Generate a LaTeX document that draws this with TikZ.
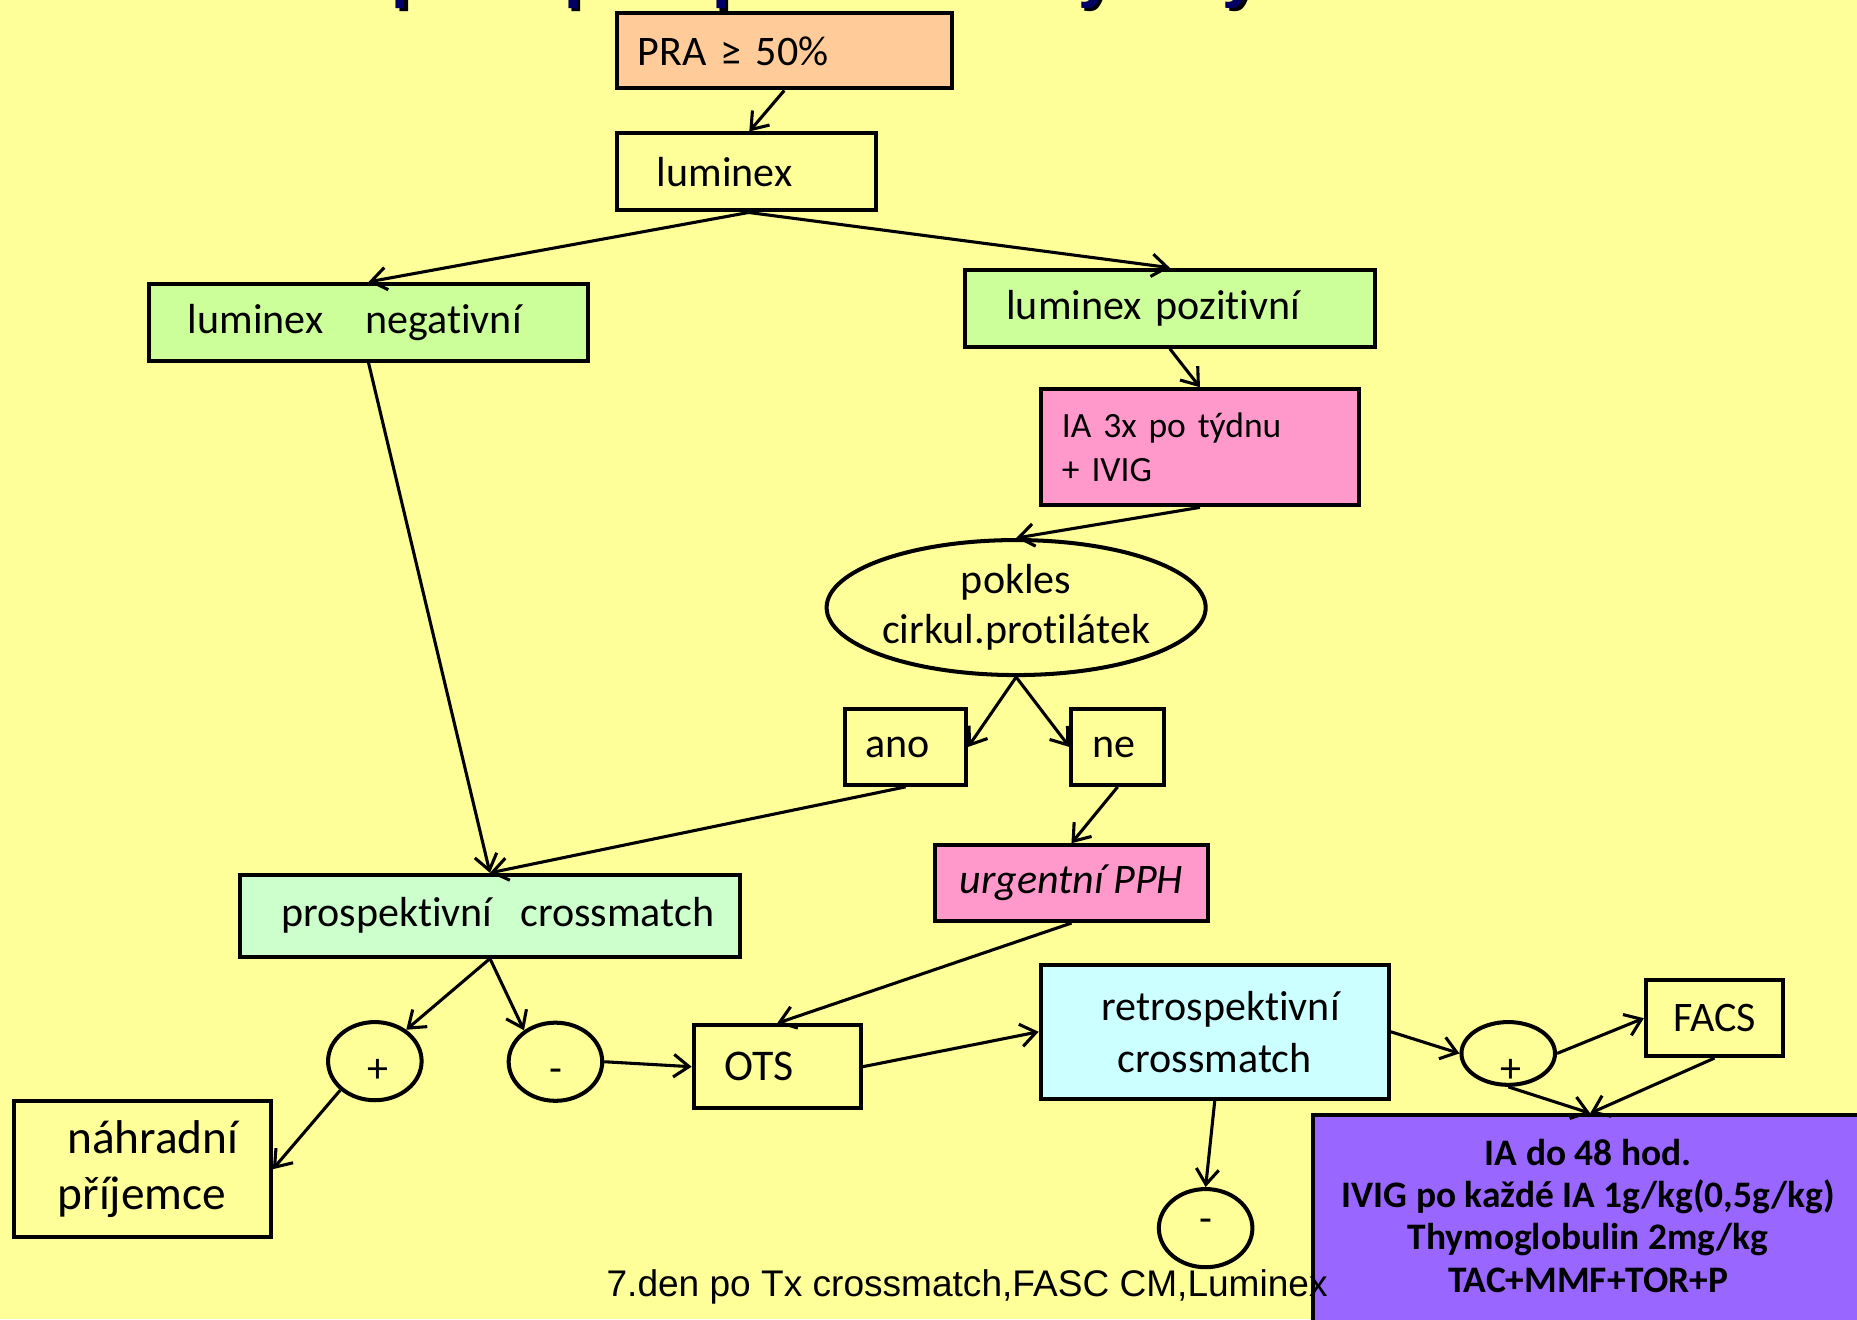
\documentclass[tikz,border=0pt]{standalone}
\usepackage{fontspec}
\setmainfont{Carlito}[Ligatures=CommonOff]
\newfontfamily\arialf{Liberation Sans}
\usetikzlibrary{arrows.meta,shapes.geometric,calc}
\definecolor{bgc}{HTML}{FFFF99}
\definecolor{praC}{HTML}{FFCC99}
\definecolor{grnC}{HTML}{CCFF99}
\definecolor{pinkC}{HTML}{FF99CC}
\definecolor{mintC}{HTML}{CCFFCC}
\definecolor{cyanC}{HTML}{CCFFFF}
\definecolor{purpC}{HTML}{9966FF}
\definecolor{navyC}{HTML}{000066}
\newcommand\fsmain{\fontsize{35.5}{42}\selectfont}
\begin{document}
\begin{tikzpicture}[x=1pt,y=-1pt,
  box/.style={draw=black, line width=3.4pt, rectangle, inner sep=0pt, anchor=north west, font=\fsmain},
  lbox/.style={box, minimum width=#1, text width=#1, align=left},
  circ/.style={draw=black, line width=3.4pt, ellipse, inner sep=0pt, minimum width=79pt, minimum height=66pt},
  sign/.style={inner sep=0pt, anchor=base, font=\fsmain},
  arr/.style={-{Straight Barb[length=13pt,width=19pt]}, line width=2.6pt}]
\useasboundingbox (0,0) rectangle (1568,1114);
\clip (0,0) rectangle (1568,1114);
\fill[bgc] (0,0) rectangle (1568,1114);
% title (cut off at top)
\node[anchor=base west, inner sep=0pt, text=black, font=\arialf\bfseries\fontsize{53.5}{60}\selectfont] (titlesh) at (191,-1) {Další postup\ \ u\ \ pacientů s vysokým PRA};
\node[anchor=base west, inner sep=0pt, text=navyC, font=\arialf\bfseries\fontsize{53.5}{60}\selectfont] (title) at (188,-4) {Další postup\ \ u\ \ pacientů s vysokým PRA};
% boxes
\node[lbox=283pt, fill=praC, minimum height=63.5pt] (pra) at (519,9.5) {\hspace*{18pt}PRA ≥ 50\%};
\node[lbox=219pt, minimum height=65pt] (lum) at (519,111) {\hspace*{34pt}luminex};
\node[lbox=371pt, fill=grnC, minimum height=65pt] (neg) at (124,238) {\hspace*{33pt}luminex\ \ \ negativní};
\node[lbox=346pt, fill=grnC, minimum height=65pt] (poz) at (813,226) {\hspace*{35pt}luminex pozitivní};
\node[lbox=269pt, fill=pinkC, minimum height=98pt, font=\fontsize{30}{37}\selectfont] (ia) at (877,327) {\hspace*{18pt}IA 3x po týdnu\\\hspace*{18pt}+ IVIG};
\node[circ, minimum width=320pt, minimum height=114pt, align=center, font=\fontsize{35.5}{42}\selectfont] (ell) at (858,513) {pokles\\cirkul.protilátek};
\node[lbox=102pt, minimum height=64pt] (ano) at (712,597) {\hspace*{17pt}ano};
\node[lbox=78pt, minimum height=64pt] (ne) at (903,597) {\hspace*{18pt}ne};
\node[box, fill=pinkC, minimum width=230pt, minimum height=64pt, align=center, font=\fsmain\itshape] (urg) at (788,712) {urgentní PPH};
\node[lbox=422pt, fill=mintC, minimum height=69pt] (pros) at (201,737) {\hspace*{35pt}prospektivní\ \ crossmatch};
\node[lbox=141pt, minimum height=70pt, font=\fontsize{37}{42}\selectfont] (ots) at (584,864) {\hspace*{26pt}OTS};
\node[box, fill=cyanC, minimum width=294pt, minimum height=113pt, align=center, font=\fontsize{35.5}{44}\selectfont] (retro) at (877,813) {\hspace*{10pt}retrospektivní\\crossmatch};
\node[box, minimum width=116pt, minimum height=64pt, align=center] (facs) at (1388,826) {FACS};
\node[lbox=217pt, minimum height=115pt, font=\fontsize{40}{48}\selectfont] (nahr) at (10,928) {\hspace*{45pt}náhradní\\\hspace*{37pt}příjemce};
\node[box, fill=purpC, minimum width=468pt, minimum height=180pt] (purple) at (1107,940) {};
\node[inner sep=0pt, align=center, font=\bfseries\fontsize{31.6}{35.6}\selectfont] (ptext) at (1341,1026.6) {IA do 48 hod.\\IVIG po každé IA 1g/kg(0,5g/kg)\\Thymoglobulin 2mg/kg\\TAC+MMF+TOR+P};
% circles
\node[circ] (pc) at (316.5,896) {};
\node[sign] (pct) at (318.8,914) {+};
\node[circ] (mc) at (469,896.5) {};
\node[sign] (mct) at (469,914) {-};
\node[circ, minimum height=53pt] (rp) at (1273.5,889.5) {};
\node[sign] (rpt) at (1276,914) {+};
\node[circ] (bm) at (1018,1037) {};
\node[sign] (bmt) at (1018,1041) {-};
% connectors
\draw[arr] (pra.south) -- ([xshift=2.5pt]lum.north);
\draw[arr] ([xshift=2pt]lum.south) -- (neg.north);
\draw[arr] ([xshift=2pt]lum.south) -- (poz.north);
\draw[arr] (poz.south) -- (ia.north);
\draw[arr] (ia.south) -- (ell.north);
\draw[arr] (ell.south) -- (ano.east);
\draw[arr] (ell.south) -- (ne.west);
\draw[arr] (ne.south) -- (urg.north);
\draw[arr] (neg.south) -- (pros.north);
\draw[arr] (ano.south) -- (pros.north);
\draw[arr] (urg.south) -- (ots.north);
\draw[arr] (pros.south) -- (pc.45);
\draw[arr] (pros.south) -- (mc.135);
\draw[arr] (mc.east) -- (ots.west);
\draw[arr] (ots.east) -- (retro.west);
\draw[arr] (pc.220) -- (nahr.east);
\draw[arr] (retro.east) -- (rp.west);
\draw[arr] (rp.east) -- (facs.west);
\draw[arr] (rp.south) -- (purple.north);
\draw[arr] (facs.south) -- (purple.north);
\draw[arr] (retro.south) -- (bm.north);
% footer
\node[anchor=base west, inner sep=0pt, font=\arialf\fontsize{31.3}{36}\selectfont] (foot) at (512,1095) {7.den po Tx crossmatch,FASC CM,Luminex};
\end{tikzpicture}
\end{document}
